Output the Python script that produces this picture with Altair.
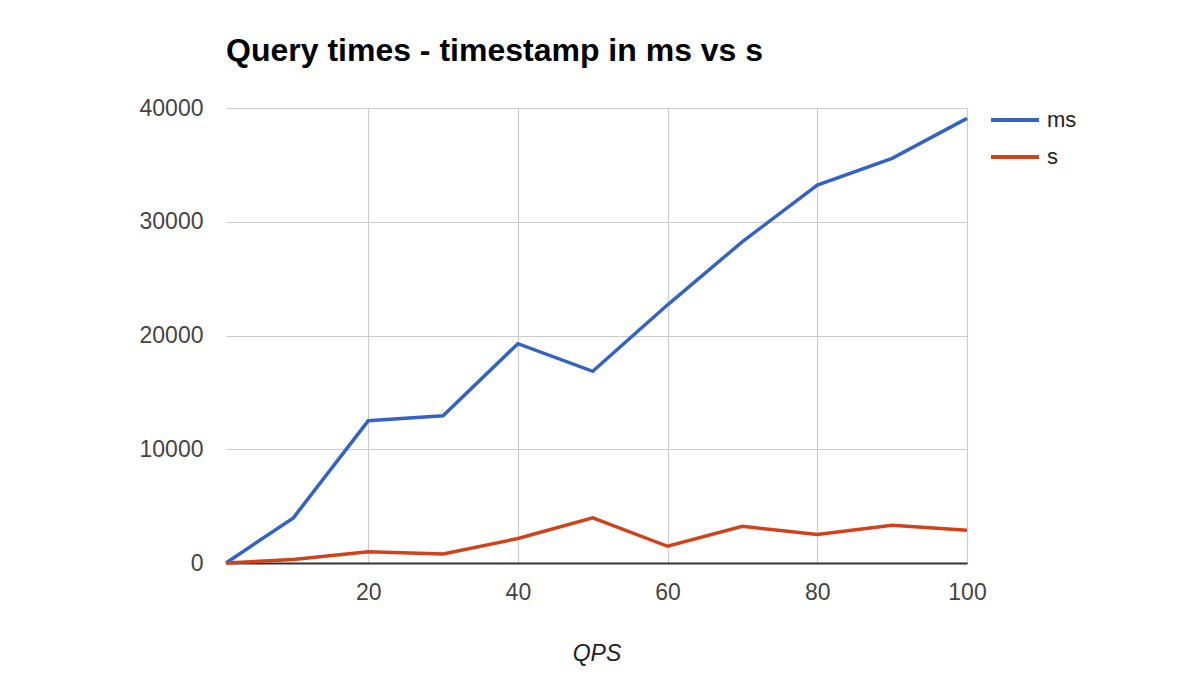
import altair as alt
import pandas as pd

qps = [1, 10, 20, 30, 40, 50, 60, 70, 80, 90, 100]
ms_times = [0, 3970, 12500, 12950, 19280, 16850, 22700, 28250, 33230, 35580, 39090]
s_times = [0, 300, 980, 800, 2150, 3970, 1470, 3230, 2500, 3320, 2880]
series_names = ["ms", "s"]
series_colors = ["#3464c0", "#d0421a"]
x_ticks = [20, 40, 60, 80, 100]
y_ticks = [0, 10000, 20000, 30000, 40000]

df = pd.DataFrame({
    "QPS": qps + qps,
    "time": ms_times + s_times,
    "series": ["ms"] * len(qps) + ["s"] * len(qps),
})

FONT = "Liberation Sans"

chart = alt.Chart(df).mark_line(strokeWidth=3.5).encode(
    x=alt.X(
        "QPS:Q",
        scale=alt.Scale(domain=[1, 100], nice=False, zero=False),
        axis=alt.Axis(
            values=x_ticks, title="QPS", titleFontStyle="italic",
            titleFontWeight="normal", titleFontSize=23, titleColor="#222",
            titleFont=FONT, titlePadding=38,
            labelFont=FONT, labelFontSize=23, labelColor="#444",
            labelPadding=18, labelFlush=False, ticks=False, tickSize=0,
            domainColor="#333", domainWidth=2,
            gridColor="#cccccc", gridWidth=1.2,
        ),
    ),
    y=alt.Y(
        "time:Q",
        scale=alt.Scale(domain=[0, 40000], nice=False),
        axis=alt.Axis(
            values=y_ticks, format="d", title=None,
            labelFont=FONT, labelFontSize=23, labelColor="#444",
            labelPadding=23, ticks=False, tickSize=0, domain=False,
            gridColor="#cccccc", gridWidth=1.2,
        ),
    ),
    color=alt.Color(
        "series:N",
        scale=alt.Scale(domain=series_names, range=series_colors),
        legend=alt.Legend(
            title=None, orient="none", legendX=763, legendY=-14,
            symbolType="stroke", symbolSize=2304, symbolStrokeWidth=4,
            labelFont=FONT, labelFontSize=22, labelColor="#222",
            labelOffset=6, rowPadding=-9,
        ),
    ),
).properties(
    width=741,
    height=455,
    title=alt.TitleParams(
        "Query times - timestamp in ms vs s",
        anchor="start", frame="group", font=FONT, fontSize=32,
        fontWeight="bold", color="#000", baseline="alphabetic", offset=1,
    ),
    autosize=alt.AutoSizeParams(type="none"),
    padding={"left": 218, "top": 100, "right": 210, "bottom": 104},
).configure_view(stroke=None)

chart.save("out.html", embed_options={"renderer": "svg", "actions": False})
